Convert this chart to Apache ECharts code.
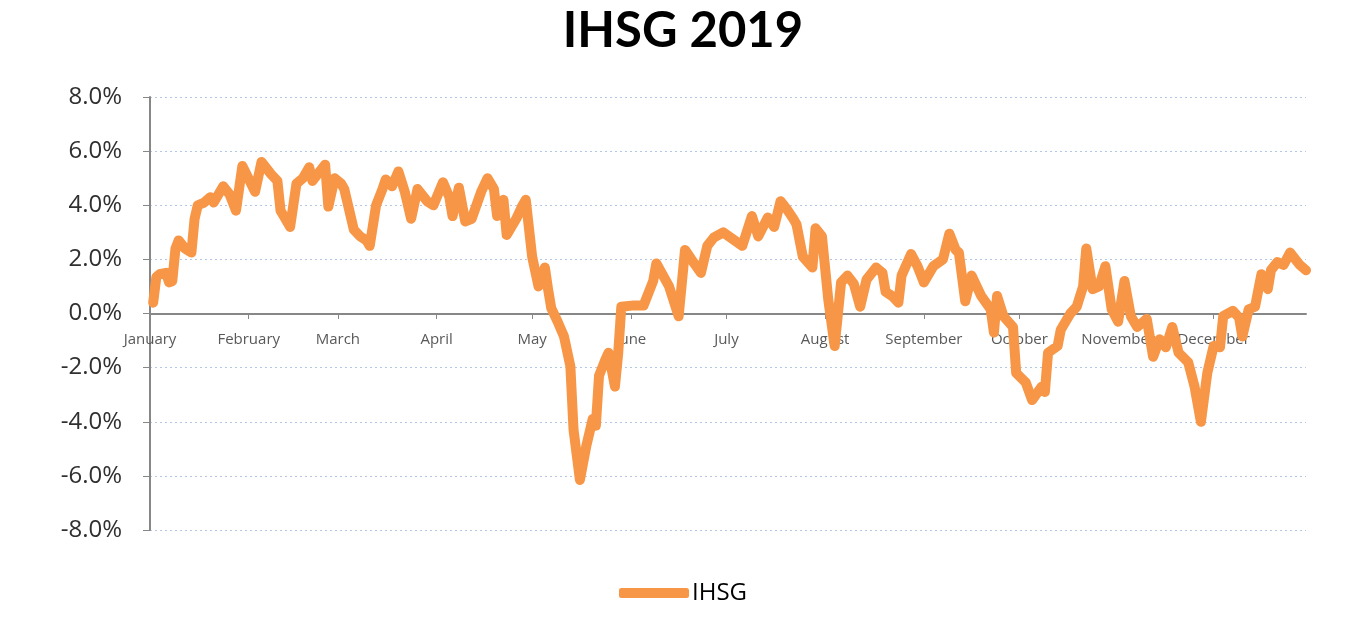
<!DOCTYPE html>
<html>
<head>
<meta charset="UTF-8">
<title>IHSG 2019</title>
<script src="https://cdn.jsdelivr.net/npm/echarts@6/dist/echarts.min.js"></script>
<style>
  html, body { margin: 0; padding: 0; background: #fff; }
  #main { width: 1366px; height: 620px; }
</style>
</head>
<body>
<div id="main"></div>
<script type="text/javascript">
// day of the year 2019 (1 = 1 January) for every point
var dayOfYear = [
  2, 3, 4, 6, 7, 8, 9, 10, 12, 14, 15, 16, 18, 20, 21, 24, 26, 28, 30, 34,
  36, 39, 41, 42, 43, 45, 47, 49, 51, 52, 54, 56, 57, 59, 61, 62, 63, 65, 67, 69,
  70, 72, 74, 75, 77, 79, 81, 83, 85, 88, 90, 93, 95, 96, 98, 100, 102, 105, 107, 109,
  110, 112, 113, 116, 118, 119, 121, 123, 125, 126, 127, 129, 131, 133, 134, 136, 138, 140, 141, 142,
  144, 145, 147, 148, 149, 153, 156, 159, 160, 164, 167, 169, 171, 174, 176, 178, 181, 184, 187, 190,
  192, 195, 197, 199, 201, 203, 204, 206, 209, 210, 212, 214, 216, 218, 220, 222, 224, 226, 229, 231,
  232, 234, 236, 237, 240, 242, 244, 247, 250, 252, 254, 255, 257, 259, 262, 265, 266, 267, 269, 272,
  273, 276, 278, 281, 282, 283, 286, 287, 290, 292, 294, 295, 297, 299, 301, 303, 305, 307, 309, 311,
  314, 316, 318, 320, 322, 324, 327, 329, 331, 333, 335, 337, 338, 341, 343, 344, 346, 348, 350, 352,
  353, 355, 357, 359, 362, 364
];

// IHSG change since the start of the year, in %
var ihsg = [
  0.4, 1.35, 1.45, 1.5, 1.15, 1.2, 2.4, 2.7, 2.4, 2.25, 3.5, 4.0, 4.1, 4.3, 4.1, 4.7, 4.4, 3.8, 5.45, 4.5,
  5.6, 5.15, 4.9, 3.8, 3.6, 3.2, 4.8, 5.0, 5.4, 4.9, 5.2, 5.5, 3.95, 5.0, 4.8, 4.6, 4.1, 3.1, 2.85, 2.7,
  2.5, 4.0, 4.6, 4.95, 4.7, 5.25, 4.5, 3.5, 4.6, 4.15, 4.0, 4.85, 4.3, 3.6, 4.65, 3.4, 3.5, 4.5, 5.0, 4.6,
  3.6, 4.2, 2.9, 3.5, 4.0, 4.2, 2.1, 1.0, 1.7, 0.9, 0.2, -0.3, -0.85, -1.95, -4.3, -6.15, -4.9, -3.9, -4.15, -2.3,
  -1.7, -1.45, -2.7, -1.5, 0.25, 0.3, 0.3, 1.2, 1.85, 1.0, -0.1, 2.35, 2.0, 1.5, 2.5, 2.8, 3.0, 2.75, 2.5, 3.6,
  2.85, 3.55, 3.2, 4.15, 3.85, 3.5, 3.3, 2.1, 1.7, 3.15, 2.85, 0.5, -1.2, 1.15, 1.4, 1.1, 0.25, 1.25, 1.7, 1.5,
  0.8, 0.65, 0.4, 1.4, 2.2, 1.75, 1.15, 1.75, 2.0, 2.95, 2.35, 2.25, 0.45, 1.4, 0.65, 0.15, -0.7, 0.65, -0.1, -0.5,
  -2.2, -2.55, -3.2, -2.7, -2.9, -1.45, -1.2, -0.6, 0.0, 0.25, 1.0, 2.4, 0.9, 1.0, 1.75, 0.15, -0.3, 1.2, -0.1, -0.5,
  -0.2, -1.6, -0.95, -1.25, -0.5, -1.45, -1.8, -2.7, -4.0, -2.2, -1.2, -1.25, -0.1, 0.1, -0.15, -0.85, 0.15, 0.25, 1.45, 0.9,
  1.6, 1.9, 1.8, 2.25, 1.8, 1.6
];

var monthNames = ['January', 'February', 'March', 'April', 'May', 'June',
  'July', 'August', 'September', 'October', 'November', 'December'];

var seriesData = dayOfYear.map(function (d, i) {
  return [new Date(2019, 0, d).getTime(), ihsg[i]];
});

var myChart = echarts.init(document.getElementById('main'));

var DAY = 24 * 3600 * 1000;
// plot area: top 97, height 433, y from -8 to 8 -> zero line sits 216 px above the bottom
var zeroOffset = -216;

var option = {
  animation: false,
  title: {
    text: 'IHSG 2019',
    left: 'center',
    top: 2,
    textStyle: {
      fontFamily: 'Lato',
      fontWeight: 'bold',
      fontSize: 49,
      color: '#000'
    }
  },
  legend: {
    data: ['IHSG'],
    bottom: 10,
    left: 'center',
    icon: 'roundRect',
    itemWidth: 70,
    itemHeight: 10,
    itemGap: 4,
    textStyle: {
      fontFamily: 'Open Sans',
      fontSize: 24,
      color: '#000',
      padding: [0, 0, 0, -2]
    }
  },
  grid: {
    left: 150,
    right: 60,
    top: 97,
    bottom: 90
  },
  xAxis: {
    type: 'time',
    min: new Date(2019, 0, 1).getTime(),
    max: new Date(2019, 11, 30).getTime(),
    splitNumber: 12,
    minInterval: 28 * DAY,
    maxInterval: 31 * DAY,
    offset: zeroOffset,
    axisLine: {
      onZero: false,
      lineStyle: { color: '#878787', width: 2 }
    },
    axisTick: {
      show: true,
      length: 5,
      lineStyle: { color: '#878787', width: 1 }
    },
    axisLabel: {
      showMinLabel: true,
      margin: 18,
      fontFamily: 'Open Sans',
      fontSize: 15,
      color: '#595959',
      formatter: function (val) {
        return monthNames[new Date(val).getMonth()];
      }
    },
    splitLine: { show: false }
  },
  yAxis: {
    type: 'value',
    min: -8,
    max: 8,
    interval: 2,
    axisLine: {
      show: true,
      lineStyle: { color: '#878787', width: 2 }
    },
    axisTick: {
      show: true,
      length: 7,
      lineStyle: { color: '#878787', width: 1 }
    },
    axisLabel: {
      margin: 28,
      fontFamily: 'Open Sans',
      fontSize: 24,
      color: '#303030',
      formatter: function (v) { return v.toFixed(1) + '%'; }
    },
    splitLine: {
      show: true,
      lineStyle: { color: '#b4c7e7', width: 1, type: [2, 3] }
    }
  },
  series: [{
    name: 'IHSG',
    type: 'line',
    data: seriesData,
    showSymbol: false,
    symbol: 'none',
    color: '#F79646',
    lineStyle: {
      color: '#F79646',
      width: 10,
      join: 'round',
      cap: 'round'
    }
  }]
};

myChart.setOption(option);
</script>
</body>
</html>
